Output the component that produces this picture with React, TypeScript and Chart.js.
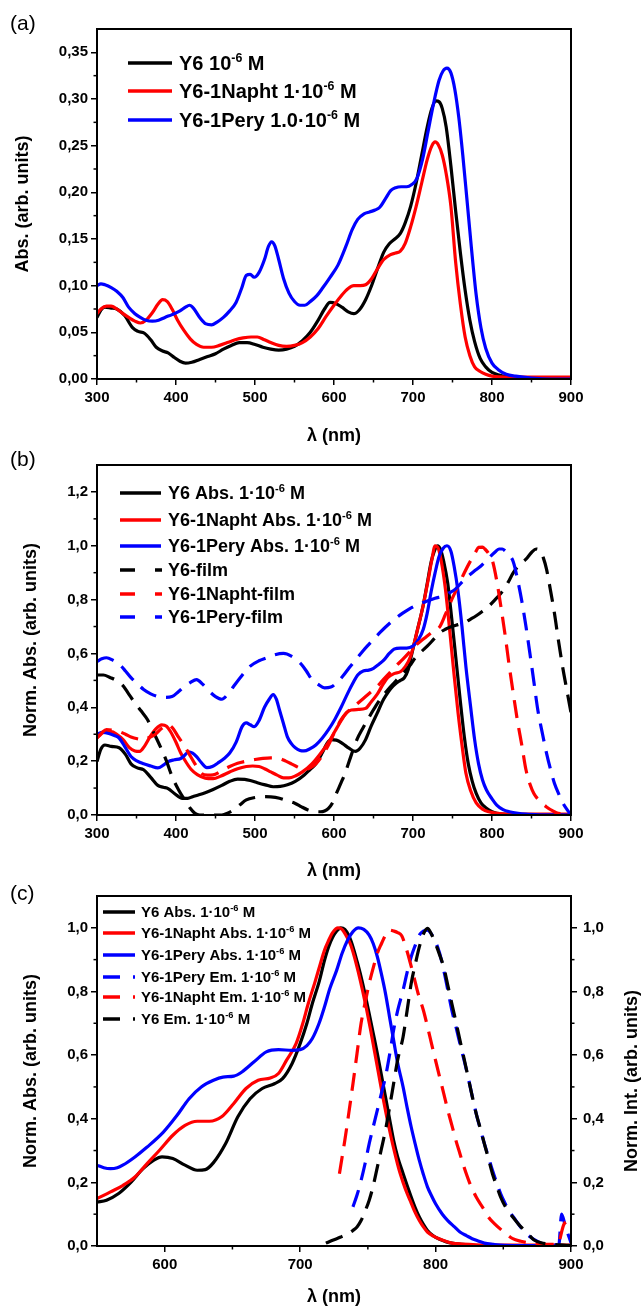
import React, { useEffect, useRef } from 'react';
import { Chart, registerables } from 'chart.js';

Chart.register(...registerables);

const FONT = '"Liberation Sans", Arial, Helvetica, sans-serif';
const BLACK = '#000000';
const RED = '#ff0000';
const BLUE = '#0000ff';

// ---------------- Panel (a) : absorbance ----------------
const aY6Wl = [300,305,310,318,325,335,345,352,360,368,375,383,390,398,405,412,420,430,440,450,460,470,480,490,500,510,520,530,540,550,560,570,580,588,595,602,610,618,625,632,640,648,655,663,670,677,684,690,697,704,711,718,724,729,733,737,742,748,754,760,766,772,778,785,792,800,810,820,830,845,860,880,900];
const aY6Abs = [0.066,0.074,0.077,0.076,0.075,0.068,0.055,0.051,0.049,0.042,0.034,0.030,0.028,0.023,0.019,0.017,0.018,0.021,0.024,0.027,0.032,0.036,0.039,0.039,0.037,0.034,0.032,0.031,0.032,0.035,0.041,0.050,0.063,0.075,0.082,0.081,0.077,0.072,0.070,0.074,0.085,0.101,0.118,0.136,0.145,0.150,0.156,0.167,0.185,0.210,0.240,0.270,0.290,0.298,0.297,0.290,0.270,0.228,0.180,0.135,0.095,0.063,0.040,0.022,0.013,0.007,0.004,0.002,0.001,0,0,0,0];

const aNaphtWl = [300,305,312,318,325,333,340,348,355,362,370,377,383,389,395,402,410,418,426,435,445,455,465,475,485,495,503,512,520,530,540,550,560,570,580,590,600,610,618,625,633,640,648,655,663,671,678,684,690,697,704,711,718,724,728,732,737,742,748,754,760,766,772,778,785,792,800,820,850,900];
const aNaphtAbs = [0.070,0.075,0.078,0.078,0.075,0.070,0.066,0.062,0.060,0.063,0.071,0.080,0.085,0.083,0.075,0.063,0.052,0.043,0.037,0.034,0.034,0.036,0.039,0.042,0.044,0.045,0.045,0.042,0.039,0.036,0.035,0.036,0.039,0.045,0.054,0.067,0.079,0.090,0.097,0.100,0.100,0.101,0.108,0.118,0.128,0.133,0.135,0.137,0.145,0.163,0.185,0.210,0.235,0.250,0.254,0.251,0.240,0.220,0.185,0.125,0.080,0.045,0.025,0.013,0.008,0.005,0.003,0.002,0.002,0.002];

const aPeryWl = [300,305,310,318,325,333,340,348,355,362,370,378,386,395,405,412,417,422,430,438,445,452,460,468,476,483,489,494,499,505,512,517,521,525,530,536,543,550,557,563,570,578,586,595,605,615,623,630,638,645,652,658,665,672,678,685,692,698,705,712,719,726,733,738,743,748,753,758,763,768,774,780,786,792,800,808,818,830,850,875,900];
const aPeryAbs = [0.100,0.102,0.101,0.098,0.094,0.087,0.077,0.070,0.066,0.063,0.062,0.063,0.066,0.069,0.073,0.077,0.079,0.076,0.066,0.059,0.058,0.061,0.066,0.073,0.082,0.097,0.111,0.112,0.109,0.114,0.128,0.142,0.147,0.143,0.128,0.108,0.092,0.083,0.079,0.079,0.083,0.089,0.098,0.109,0.122,0.142,0.160,0.171,0.177,0.179,0.181,0.184,0.193,0.202,0.205,0.206,0.206,0.208,0.215,0.235,0.265,0.295,0.320,0.330,0.333,0.328,0.310,0.280,0.240,0.195,0.140,0.090,0.055,0.033,0.017,0.010,0.005,0.003,0.001,0,0];

const aXTicks = [300,400,500,600,700,800,900];
const aXMinor = [350,450,550,650,750,850];
const aYTicks = [0,0.05,0.10,0.15,0.20,0.25,0.30,0.35];
const aYTickLabels = ['0,00','0,05','0,10','0,15','0,20','0,25','0,30','0,35'];
const aYMinor = [0.025,0.075,0.125,0.175,0.225,0.275,0.325];
const aLabels = ['Y6 10⁻⁶ M','Y6-1Napht 1·10⁻⁶ M','Y6-1Pery 1.0·10⁻⁶ M'];

// ---------------- Panel (b) : normalised solution + film ----------------
const bY6Wl = [300,305,310,318,328,336,343,351,359,368,377,384,390,398,408,415,421,429,437,447,458,468,478,487,494,503,513,523,532,541,551,562,570,577,585,591,596,603,611,619,627,633,640,647,655,661,666,672,679,684,689,694,697,705,713,718,723,727,731,735,739,744,749,754,760,765,770,775,780,786,793,800,806,815,830,850,900];
const bY6Abs = [0.199,0.245,0.260,0.255,0.250,0.225,0.190,0.175,0.168,0.140,0.110,0.103,0.098,0.080,0.062,0.062,0.068,0.075,0.083,0.095,0.110,0.125,0.133,0.132,0.128,0.120,0.112,0.105,0.106,0.112,0.125,0.148,0.170,0.190,0.230,0.265,0.280,0.278,0.265,0.248,0.236,0.248,0.280,0.330,0.380,0.420,0.445,0.470,0.490,0.500,0.510,0.540,0.580,0.680,0.780,0.860,0.940,0.980,1.000,0.985,0.940,0.860,0.730,0.590,0.420,0.290,0.190,0.125,0.080,0.045,0.025,0.012,0.006,0.003,0.001,0,0];

const bNaphtWl = [300,305,310,318,325,333,341,348,354,360,367,374,382,388,393,400,406,413,419,427,437,447,457,468,478,489,497,505,512,520,528,536,543,551,560,572,582,593,601,609,616,622,631,640,647,655,662,668,676,684,690,697,705,713,719,724,728,732,736,741,746,751,757,762,767,773,780,788,796,810,830,860,900];
const bNaphtAbs = [0.286,0.300,0.310,0.310,0.300,0.280,0.250,0.238,0.236,0.255,0.290,0.318,0.335,0.330,0.310,0.270,0.230,0.195,0.170,0.150,0.137,0.135,0.145,0.160,0.172,0.180,0.182,0.180,0.172,0.160,0.148,0.138,0.138,0.145,0.160,0.190,0.225,0.270,0.310,0.350,0.380,0.390,0.392,0.396,0.420,0.450,0.485,0.510,0.525,0.532,0.550,0.590,0.680,0.780,0.870,0.950,1.000,0.990,0.940,0.840,0.700,0.550,0.380,0.260,0.155,0.090,0.045,0.022,0.012,0.005,0.003,0.003,0.003];

const bPeryWl = [300,307,315,322,328,335,343,351,359,368,377,384,390,398,406,411,416,421,426,432,439,446,453,461,468,476,484,489,494,499,505,512,518,523,527,531,536,541,546,551,557,562,569,577,585,593,601,609,617,624,630,637,644,650,657,663,670,676,684,692,700,707,713,718,723,728,733,738,743,748,752,757,762,767,773,778,783,788,793,800,806,814,822,833,843,860,900];
const bPeryAbs = [0.300,0.307,0.303,0.295,0.286,0.255,0.217,0.200,0.190,0.182,0.175,0.185,0.198,0.205,0.210,0.222,0.235,0.230,0.217,0.195,0.176,0.180,0.193,0.210,0.230,0.270,0.330,0.342,0.335,0.328,0.350,0.400,0.430,0.447,0.430,0.390,0.340,0.290,0.265,0.250,0.240,0.238,0.245,0.260,0.285,0.317,0.355,0.400,0.450,0.490,0.520,0.535,0.538,0.545,0.560,0.575,0.600,0.616,0.620,0.620,0.628,0.652,0.690,0.750,0.830,0.900,0.960,0.990,1.000,0.980,0.925,0.830,0.700,0.550,0.400,0.280,0.190,0.130,0.093,0.060,0.037,0.020,0.012,0.006,0.003,0.001,0];

const bY6FilmWl = [300,308,317,325,333,340,348,356,364,372,380,388,395,403,411,418,424,430,437,447,458,466,473,481,489,500,510,520,531,541,551,559,567,575,583,588,593,598,603,609,614,621,629,637,645,653,661,669,676,682,689,696,702,710,718,726,734,741,749,757,765,772,780,788,796,804,812,820,827,835,843,850,856,861,865,869,874,879,884,890,895,900];
const bY6Film = [0.520,0.520,0.510,0.500,0.480,0.450,0.416,0.386,0.354,0.305,0.255,0.200,0.143,0.095,0.056,0.025,0.006,0,0,0,0,0.008,0.019,0.038,0.056,0.065,0.068,0.067,0.062,0.053,0.043,0.030,0.019,0.013,0.012,0.015,0.025,0.045,0.080,0.120,0.155,0.215,0.280,0.325,0.366,0.405,0.440,0.468,0.490,0.510,0.530,0.555,0.580,0.605,0.627,0.652,0.677,0.690,0.700,0.707,0.714,0.726,0.740,0.757,0.776,0.800,0.826,0.862,0.900,0.930,0.950,0.975,0.988,0.980,0.955,0.913,0.835,0.750,0.650,0.540,0.460,0.380];

const bNaphtFilmWl = [300,306,312,320,328,336,343,351,359,366,374,382,390,396,403,410,416,424,432,440,447,457,468,478,489,500,510,520,531,539,546,554,562,570,577,585,593,601,609,616,624,632,640,648,655,663,671,679,687,695,702,710,718,726,734,741,749,757,765,773,779,783,788,791,796,801,806,812,817,822,827,832,838,843,848,853,861,869,877,884,892,900];
const bNaphtFilm = [0.286,0.305,0.317,0.315,0.310,0.300,0.290,0.283,0.280,0.288,0.300,0.322,0.335,0.322,0.290,0.260,0.230,0.190,0.155,0.148,0.149,0.163,0.180,0.192,0.200,0.206,0.210,0.212,0.210,0.200,0.190,0.178,0.168,0.175,0.190,0.220,0.260,0.310,0.354,0.380,0.400,0.420,0.440,0.460,0.478,0.505,0.530,0.555,0.578,0.603,0.627,0.646,0.665,0.683,0.700,0.745,0.800,0.850,0.900,0.945,0.975,0.994,0.995,0.988,0.970,0.940,0.870,0.760,0.660,0.550,0.450,0.354,0.255,0.168,0.115,0.080,0.050,0.030,0.015,0.006,0.005,0.005];

const bPeryFilmWl = [300,306,312,320,328,336,343,351,359,368,377,386,395,403,411,418,426,434,442,450,458,466,473,484,494,505,515,525,536,546,557,565,572,580,588,596,603,611,619,627,634,642,650,658,666,676,687,695,702,710,718,728,739,746,754,762,770,778,786,794,801,805,809,813,817,822,827,832,838,843,848,853,858,864,869,874,879,885,890,895,900];
const bPeryFilm = [0.570,0.580,0.584,0.575,0.560,0.535,0.510,0.488,0.466,0.450,0.440,0.437,0.440,0.458,0.478,0.492,0.503,0.485,0.460,0.440,0.430,0.450,0.478,0.520,0.553,0.573,0.584,0.595,0.600,0.590,0.565,0.535,0.503,0.485,0.472,0.475,0.490,0.515,0.546,0.575,0.600,0.627,0.652,0.677,0.700,0.726,0.750,0.765,0.776,0.786,0.795,0.805,0.814,0.825,0.840,0.865,0.888,0.907,0.925,0.948,0.969,0.980,0.988,0.988,0.980,0.965,0.940,0.880,0.790,0.700,0.600,0.495,0.390,0.300,0.230,0.170,0.118,0.075,0.043,0.020,0];

const bXTicks = [300,400,500,600,700,800,900];
const bXMinor = [350,450,550,650,750,850];
const bYTicks = [0,0.2,0.4,0.6,0.8,1.0,1.2];
const bYTickLabels = ['0,0','0,2','0,4','0,6','0,8','1,0','1,2'];
const bYMinor = [0.1,0.3,0.5,0.7,0.9,1.1];
const bLabels = ['Y6 Abs. 1·10⁻⁶ M','Y6-1Napht Abs. 1·10⁻⁶ M','Y6-1Pery Abs. 1·10⁻⁶ M','Y6-film','Y6-1Napht-film','Y6-1Pery-film'];

// ---------------- Panel (c) : absorbance + emission ----------------
const cY6Wl = [550,557,566,575,584,592,598,606,615,624,630,636,645,654,663,672,681,687,694,700,705,709,714,718,721,724,727,730,733,736,739,742,745,748,751,754,757,760,763,766,769,772,776,779,782,785,788,791,794,798,803,808,812,820,827,840,860,900];
const cY6Abs = [0.138,0.144,0.165,0.200,0.243,0.270,0.280,0.275,0.254,0.238,0.240,0.262,0.322,0.406,0.463,0.495,0.510,0.526,0.573,0.636,0.700,0.762,0.830,0.898,0.940,0.970,0.990,1.000,0.995,0.975,0.940,0.895,0.846,0.790,0.730,0.668,0.605,0.537,0.469,0.400,0.332,0.280,0.228,0.190,0.154,0.120,0.091,0.068,0.049,0.033,0.021,0.013,0.009,0.005,0.002,0.001,0,0];

const cNaphtWl = [550,560,569,578,587,596,606,615,624,633,642,651,660,669,678,684,690,697,702,706,711,715,718,721,724,728,731,734,737,740,743,746,749,752,755,758,761,764,767,770,773,776,779,782,785,788,791,794,798,803,808,812,820,830,850,870,890,900];
const cNaphtAbs = [0.149,0.170,0.190,0.217,0.259,0.300,0.348,0.379,0.392,0.392,0.406,0.448,0.495,0.521,0.528,0.542,0.584,0.636,0.700,0.762,0.830,0.888,0.930,0.960,0.985,1.000,0.995,0.975,0.950,0.910,0.860,0.805,0.745,0.680,0.610,0.540,0.470,0.405,0.345,0.290,0.240,0.200,0.165,0.135,0.105,0.080,0.060,0.044,0.032,0.022,0.014,0.009,0.006,0.004,0.003,0.003,0.003,0.003];

const cPeryWl = [550,555,560,565,569,578,587,599,609,618,627,636,643,651,657,666,675,684,694,700,705,709,714,718,722,727,731,735,739,743,747,751,754,757,760,763,766,769,772,776,779,782,785,788,791,794,797,800,805,809,814,818,823,827,832,836,843,851,870,900];
const cPeryAbs = [0.254,0.246,0.243,0.246,0.254,0.280,0.311,0.358,0.410,0.463,0.500,0.521,0.531,0.534,0.547,0.579,0.610,0.617,0.615,0.617,0.630,0.652,0.700,0.752,0.810,0.867,0.920,0.961,0.988,1.000,0.995,0.977,0.950,0.909,0.855,0.794,0.720,0.647,0.575,0.500,0.435,0.374,0.320,0.269,0.225,0.186,0.158,0.133,0.100,0.080,0.060,0.044,0.032,0.023,0.015,0.009,0.005,0.002,0.001,0];

const cPeryEmWl = [739,742,745,748,751,754,757,760,763,766,769,772,776,779,782,785,788,791,794,797,799,803,806,809,812,815,818,821,824,827,830,833,836,839,842,845,848,851,854,858,861,865,870,875,879,885,891,893,896,900];
const cPeryEm = [0.123,0.160,0.206,0.260,0.322,0.375,0.427,0.480,0.531,0.600,0.678,0.740,0.804,0.860,0.909,0.945,0.977,0.990,0.993,0.980,0.966,0.920,0.867,0.805,0.741,0.690,0.636,0.585,0.531,0.472,0.416,0.368,0.322,0.280,0.238,0.200,0.165,0.137,0.112,0.088,0.070,0.048,0.028,0.015,0.007,0.004,0.003,0.100,0.060,0.010];

const cNaphtEmWl = [729,731,733,736,739,742,745,748,751,754,757,760,763,766,769,772,775,778,781,784,787,791,794,797,800,803,806,809,812,815,818,821,825,830,835,839,844,849,853,857,863,870,878,885,890,895,900];
const cNaphtEm = [0.227,0.280,0.332,0.420,0.510,0.605,0.700,0.765,0.825,0.875,0.920,0.950,0.977,0.993,0.990,0.985,0.975,0.940,0.895,0.846,0.795,0.741,0.690,0.636,0.583,0.531,0.480,0.427,0.380,0.332,0.290,0.248,0.200,0.154,0.120,0.091,0.068,0.049,0.035,0.023,0.015,0.009,0.006,0.005,0.005,0.070,0.080];

const cY6EmWl = [719,724,730,735,739,742,745,748,751,754,757,760,763,766,769,772,776,779,782,785,788,791,794,797,800,803,806,809,812,815,818,821,824,827,830,833,836,839,842,845,848,852,857,862,867,870,873,878,882,890,897,900];
const cY6Em = [0.009,0.018,0.028,0.038,0.049,0.060,0.080,0.110,0.144,0.190,0.248,0.305,0.364,0.435,0.510,0.585,0.657,0.740,0.825,0.885,0.940,0.980,0.998,0.980,0.950,0.915,0.877,0.820,0.762,0.705,0.647,0.590,0.531,0.472,0.416,0.370,0.322,0.275,0.227,0.190,0.154,0.120,0.091,0.065,0.044,0.030,0.018,0.010,0.007,0.004,0.002,0.002];

const cXTicks = [600,700,800,900];
const cXMinor = [650,750,850];
const cYTicks = [0,0.2,0.4,0.6,0.8,1.0];
const cYTickLabels = ['0,0','0,2','0,4','0,6','0,8','1,0'];
const cYMinor = [0.1,0.3,0.5,0.7,0.9];
const cLabels = ['Y6 Abs. 1·10⁻⁶ M','Y6-1Napht Abs. 1·10⁻⁶ M','Y6-1Pery Abs. 1·10⁻⁶ M','Y6-1Pery Em. 1·10⁻⁶ M','Y6-1Napht Em. 1·10⁻⁶ M','Y6 Em. 1·10⁻⁶ M'];

// ---------------- helpers ----------------
const SUP: Record<string, string> = { '⁻': '-', '⁰': '0', '¹': '1', '²': '2', '³': '3', '⁴': '4', '⁵': '5', '⁶': '6', '⁷': '7', '⁸': '8', '⁹': '9' };

function pts(wl: number[], v: number[]) {
  return wl.map((x, i) => ({ x, y: v[i] }));
}

function drawRich(ctx: CanvasRenderingContext2D, text: string, x: number, y: number, size: number) {
  const parts = text.split(/([⁻⁰¹²³⁴⁵⁶⁷⁸⁹]+)/);
  let cx = x;
  const base = y + size * 0.36;
  ctx.textAlign = 'left';
  ctx.textBaseline = 'alphabetic';
  parts.forEach((p, i) => {
    if (!p) return;
    const sup = i % 2 === 1;
    const s = sup ? size * 0.62 : size;
    ctx.font = `bold ${s}px ${FONT}`;
    const t = sup ? Array.from(p).map((c) => SUP[c] || c).join('') : p;
    ctx.fillText(t, cx, sup ? base - size * 0.42 : base);
    cx += ctx.measureText(t).width;
  });
}

type DS = { label: string; wl: number[]; v: number[]; color: string; dashed: boolean; axis?: string };

type PanelSpec = {
  top: number;
  height: number;
  plotTop: number;
  plotBottom: number;
  xMin: number;
  xMax: number;
  xTicks: number[];
  xMinor: number[];
  yMax: number;
  yTicks: number[];
  yTickLabels: string[];
  yMinor: number[];
  yTitle: string;
  yTitlePad: number;
  xTitlePad: number;
  rightAxis: boolean;
  rightTitle?: string;
  rightTitleX?: number;
  rightTitleY?: number;
  panelLabel: string;
  panelLabelY: number;
  legendRows: number[];
  legendX0: number;
  legendX1: number;
  legendTextX: number;
  legendFont: number;
  legendDash: number[][];
  datasets: DS[];
};

function makeDecor(spec: PanelSpec) {
  return {
    id: 'panelDecor',
    afterDraw(chart: any) {
      const ctx: CanvasRenderingContext2D = chart.ctx;
      const ca = chart.chartArea;
      ctx.save();
      ctx.strokeStyle = '#000';
      ctx.lineWidth = 1.5;
      ctx.setLineDash([]);
      const seg = (x1: number, y1: number, x2: number, y2: number) => {
        ctx.beginPath();
        ctx.moveTo(x1, y1);
        ctx.lineTo(x2, y2);
        ctx.stroke();
      };
      const xs = chart.scales.x;
      const ys = chart.scales.y;
      spec.xMinor.forEach((v) => {
        const p = xs.getPixelForValue(v);
        seg(p, ca.bottom, p, ca.bottom + 3.5);
      });
      spec.yMinor.forEach((v) => {
        const p = ys.getPixelForValue(v);
        seg(ca.left - 3.5, p, ca.left, p);
        if (spec.rightAxis) seg(ca.right, p, ca.right + 3.5, p);
      });
      // frame
      ctx.lineWidth = 2;
      ctx.strokeRect(ca.left, ca.top, ca.right - ca.left, ca.bottom - ca.top);
      // panel label
      ctx.fillStyle = '#000';
      ctx.font = `21px ${FONT}`;
      ctx.textAlign = 'left';
      ctx.textBaseline = 'middle';
      ctx.fillText(spec.panelLabel, 10, spec.panelLabelY);
      // right title
      if (spec.rightTitle) {
        ctx.save();
        ctx.translate(spec.rightTitleX as number, spec.rightTitleY as number);
        ctx.rotate(-Math.PI / 2);
        ctx.font = `bold 18px ${FONT}`;
        ctx.textAlign = 'center';
        ctx.textBaseline = 'middle';
        ctx.fillText(spec.rightTitle, 0, 0);
        ctx.restore();
      }
      // legend
      chart.data.datasets.forEach((ds: any, i: number) => {
        const y = spec.legendRows[i];
        ctx.strokeStyle = ds.borderColor;
        ctx.lineWidth = 3.5;
        ctx.lineCap = 'butt';
        ctx.setLineDash([]);
        if (ds.borderDash && ds.borderDash.length) {
          spec.legendDash.forEach(([a, b]) => seg(a, y, b, y));
        } else {
          seg(spec.legendX0, y, spec.legendX1, y);
        }
        ctx.fillStyle = '#000';
        drawRich(ctx, ds.label, spec.legendTextX, y, spec.legendFont);
      });
      ctx.restore();
    },
  };
}

function Panel({ spec }: { spec: PanelSpec }) {
  const ref = useRef<HTMLCanvasElement | null>(null);
  useEffect(() => {
    const canvas = ref.current;
    if (!canvas) return;
    const n = spec.datasets.length;
    const datasets = spec.datasets.map((d, i) => ({
      label: d.label,
      data: pts(d.wl, d.v),
      borderColor: d.color,
      backgroundColor: d.color,
      borderWidth: 3.2,
      borderDash: d.dashed ? [18, 10] : [],
      pointRadius: 0,
      tension: 0.4,
      cubicInterpolationMode: 'monotone' as const,
      borderJoinStyle: 'round' as const,
      fill: false,
      yAxisID: d.axis || 'y',
      order: n - i,
    }));
    const tickFont = { family: FONT, size: 15, weight: 'bold' as const };
    const titleFont = { family: FONT, size: 18, weight: 'bold' as const, lineHeight: 1 };
    const xHeight = spec.height - spec.plotBottom;
    const scales: any = {
      x: {
        type: 'linear',
        min: spec.xMin,
        max: spec.xMax,
        afterBuildTicks: (s: any) => {
          s.ticks = spec.xTicks.map((v) => ({ value: v }));
        },
        afterFit: (s: any) => {
          s.height = xHeight;
        },
        ticks: { font: tickFont, color: '#000', padding: 4, autoSkip: false, maxRotation: 0, callback: (v: any) => String(v) },
        grid: { display: true, drawOnChartArea: false, drawTicks: true, tickLength: 6, color: '#000', lineWidth: 1.5 },
        border: { display: false },
        title: { display: true, text: 'λ (nm)', font: titleFont, color: '#000', padding: { top: spec.xTitlePad, bottom: 0 } },
      },
      y: {
        type: 'linear',
        position: 'left',
        min: 0,
        max: spec.yMax,
        afterBuildTicks: (s: any) => {
          s.ticks = spec.yTicks.map((v) => ({ value: v }));
        },
        afterFit: (s: any) => {
          s.width = 97;
        },
        ticks: { font: tickFont, color: '#000', padding: 3, autoSkip: false, callback: (_v: any, i: number) => spec.yTickLabels[i] },
        grid: { display: true, drawOnChartArea: false, drawTicks: true, tickLength: 6, color: '#000', lineWidth: 1.5 },
        border: { display: false },
        title: { display: true, text: spec.yTitle, font: titleFont, color: '#000', padding: { top: spec.yTitlePad, bottom: 0 } },
      },
    };
    if (spec.rightAxis) {
      scales.y2 = {
        type: 'linear',
        position: 'right',
        min: 0,
        max: spec.yMax,
        afterBuildTicks: (s: any) => {
          s.ticks = spec.yTicks.map((v) => ({ value: v }));
        },
        afterFit: (s: any) => {
          s.width = 644 - 571;
        },
        ticks: { font: tickFont, color: '#000', padding: 6, autoSkip: false, callback: (_v: any, i: number) => spec.yTickLabels[i] },
        grid: { display: true, drawOnChartArea: false, drawTicks: true, tickLength: 6, color: '#000', lineWidth: 1.5 },
        border: { display: false },
        title: { display: false },
      };
    }
    const chart = new Chart(canvas, {
      type: 'line',
      data: { datasets },
      options: {
        responsive: false,
        maintainAspectRatio: false,
        animation: false,
        devicePixelRatio: 1,
        layout: { padding: { top: spec.plotTop, left: 0, right: spec.rightAxis ? 0 : 644 - 571, bottom: 0 } },
        plugins: { legend: { display: false }, tooltip: { enabled: false } },
        scales,
      },
      plugins: [makeDecor(spec)],
    } as any);
    return () => chart.destroy();
  }, [spec]);
  return (
    <canvas
      ref={ref}
      width={644}
      height={spec.height}
      style={{ position: 'absolute', left: 0, top: spec.top, width: 644, height: spec.height }}
    />
  );
}

const specA: PanelSpec = {
  top: 0,
  height: 445,
  plotTop: 29,
  plotBottom: 379,
  xMin: 300,
  xMax: 900,
  xTicks: aXTicks,
  xMinor: aXMinor,
  yMax: 0.375,
  yTicks: aYTicks,
  yTickLabels: aYTickLabels,
  yMinor: aYMinor,
  yTitle: 'Abs. (arb. units)',
  yTitlePad: 13.7,
  xTitlePad: 6,
  rightAxis: false,
  panelLabel: '(a)',
  panelLabelY: 24,
  legendRows: [63, 91, 120],
  legendX0: 128,
  legendX1: 172,
  legendTextX: 179,
  legendFont: 20,
  legendDash: [],
  datasets: [
    { label: aLabels[0], wl: aY6Wl, v: aY6Abs, color: BLACK, dashed: false },
    { label: aLabels[1], wl: aNaphtWl, v: aNaphtAbs, color: RED, dashed: false },
    { label: aLabels[2], wl: aPeryWl, v: aPeryAbs, color: BLUE, dashed: false },
  ],
};

const specB: PanelSpec = {
  top: 445,
  height: 435,
  plotTop: 20,
  plotBottom: 370,
  xMin: 300,
  xMax: 900,
  xTicks: bXTicks,
  xMinor: bXMinor,
  yMax: 1.3,
  yTicks: bYTicks,
  yTickLabels: bYTickLabels,
  yMinor: bYMinor,
  yTitle: 'Norm. Abs. (arb. units)',
  yTitlePad: 21.7,
  xTitlePad: 6,
  rightAxis: false,
  panelLabel: '(b)',
  panelLabelY: 15,
  legendRows: [48, 75, 101, 125, 149, 172],
  legendX0: 120,
  legendX1: 161,
  legendTextX: 168,
  legendFont: 18,
  legendDash: [[120, 135], [155, 162]],
  datasets: [
    { label: bLabels[0], wl: bY6Wl, v: bY6Abs, color: BLACK, dashed: false },
    { label: bLabels[1], wl: bNaphtWl, v: bNaphtAbs, color: RED, dashed: false },
    { label: bLabels[2], wl: bPeryWl, v: bPeryAbs, color: BLUE, dashed: false },
    { label: bLabels[3], wl: bY6FilmWl, v: bY6Film, color: BLACK, dashed: true },
    { label: bLabels[4], wl: bNaphtFilmWl, v: bNaphtFilm, color: RED, dashed: true },
    { label: bLabels[5], wl: bPeryFilmWl, v: bPeryFilm, color: BLUE, dashed: true },
  ],
};

const specC: PanelSpec = {
  top: 880,
  height: 426,
  plotTop: 16,
  plotBottom: 366,
  xMin: 550,
  xMax: 900,
  xTicks: cXTicks,
  xMinor: cXMinor,
  yMax: 1.1,
  yTicks: cYTicks,
  yTickLabels: cYTickLabels,
  yMinor: cYMinor,
  yTitle: 'Norm. Abs. (arb. units)',
  yTitlePad: 21.7,
  xTitlePad: 0,
  rightAxis: true,
  rightTitle: 'Norm. Int. (arb. units)',
  rightTitleX: 632,
  rightTitleY: 201,
  panelLabel: '(c)',
  panelLabelY: 14,
  legendRows: [32, 53, 75, 97, 117, 139],
  legendX0: 103,
  legendX1: 135,
  legendTextX: 141,
  legendFont: 15,
  legendDash: [[103, 120], [133, 135]],
  datasets: [
    { label: cLabels[0], wl: cY6Wl, v: cY6Abs, color: BLACK, dashed: false },
    { label: cLabels[1], wl: cNaphtWl, v: cNaphtAbs, color: RED, dashed: false },
    { label: cLabels[2], wl: cPeryWl, v: cPeryAbs, color: BLUE, dashed: false },
    { label: cLabels[3], wl: cPeryEmWl, v: cPeryEm, color: BLUE, dashed: true, axis: 'y2' },
    { label: cLabels[4], wl: cNaphtEmWl, v: cNaphtEm, color: RED, dashed: true, axis: 'y2' },
    { label: cLabels[5], wl: cY6EmWl, v: cY6Em, color: BLACK, dashed: true, axis: 'y2' },
  ],
};

export default function App() {
  return (
    <div style={{ position: 'absolute', left: 0, top: 0, width: 644, height: 1306, overflow: 'hidden', background: '#fff' }}>
      <Panel spec={specA} />
      <Panel spec={specB} />
      <Panel spec={specC} />
    </div>
  );
}
